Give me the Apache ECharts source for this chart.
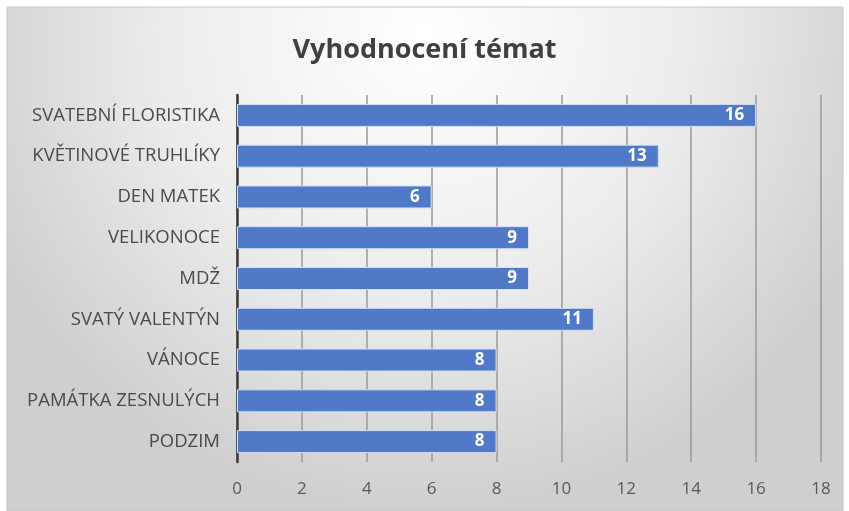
<!DOCTYPE html>
<html><head><meta charset="utf-8">
<script src="https://cdn.jsdelivr.net/npm/echarts@6/dist/echarts.min.js"></script>
<style>html,body{margin:0;padding:0;background:#fff}#c{width:849px;height:511px}</style>
</head><body><div id="c"></div>
<script>
const title = 'Vyhodnocení témat';
const categories = ['SVATEBNÍ FLORISTIKA','KVĚTINOVÉ TRUHLÍKY','DEN MATEK','VELIKONOCE','MDŽ','SVATÝ VALENTÝN','VÁNOCE','PAMÁTKA ZESNULÝCH','PODZIM'];
const values = [16,13,6,9,9,11,8,8,8];
const xMin = 0, xMax = 18, xStep = 2;

const chart = echarts.init(document.getElementById('c'));
const FONT = '"Open Sans", "Noto Sans", sans-serif';
chart.setOption({
  animation:false,
  graphic:[{type:'rect', z:-10, silent:true, shape:{x:7,y:7,width:836,height:504},
    style:{fill:{type:'radial', x:0.5, y:0.05, r:0.95, colorStops:[{offset:0,color:'#ffffff'},{offset:0.55,color:'#ececec'},{offset:1,color:'#cfcfcf'}]},
      stroke:'#c8c8c8', lineWidth:1}}],
  title:{text:title, left:'center', top:32, textStyle:{fontFamily:FONT, fontSize:27, fontWeight:'bold', color:'#404040'}},
  grid:{left:237, right:28, top:95, bottom:49, containLabel:false},
  xAxis:{type:'value', min:xMin, max:xMax, interval:xStep,
    axisLine:{show:false}, axisTick:{show:false},
    axisLabel:{fontFamily:FONT, fontSize:17, color:'#595959', margin:19},
    splitLine:{show:true, lineStyle:{color:'#9a9a9a', width:1.5}}},
  yAxis:{type:'category', data:categories, inverse:true,
    axisLine:{show:true, lineStyle:{color:'#3a3a3a', width:2.5}}, axisTick:{show:false},
    axisLabel:{fontFamily:FONT, fontSize:18.5, color:'#4a4a4a', margin:17}},
  series:[{type:'bar', data:values, barWidth:23,
    itemStyle:{color:'#5079c8', borderColor:'#d4e0f4', borderWidth:1},
    label:{show:true, position:'insideRight', distance:12, fontFamily:FONT, fontSize:17, fontWeight:'bold', color:'#ffffff'}}]
});
</script></body></html>
